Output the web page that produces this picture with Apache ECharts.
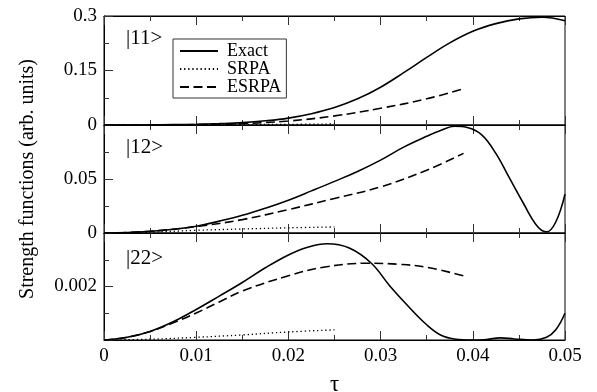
<!DOCTYPE html>
<html>
<head>
<meta charset="utf-8">
<script src="https://cdn.jsdelivr.net/npm/echarts@6/dist/echarts.min.js"></script>
<style>
  html, body { margin: 0; padding: 0; background: #fff; }
  #chart { width: 597px; height: 392px; }
</style>
</head>
<body>
<div id="chart"></div>
<script>
// Strength functions of the |11>, |12> and |22> states versus tau

// |11> panel
const tauExact11 = [0, 0.0025, 0.005, 0.0075, 0.01, 0.0125, 0.015, 0.0175, 0.02, 0.0225, 0.025, 0.0275, 0.03, 0.0325, 0.035, 0.0375, 0.04, 0.0425, 0.045, 0.0475, 0.05];
const exact11 = [0, 0.0001, 0.0003, 0.001, 0.002, 0.0038, 0.0065, 0.0115, 0.019, 0.031, 0.048, 0.072, 0.104, 0.144, 0.186, 0.226, 0.258, 0.279, 0.292, 0.2965, 0.287];
const tauSrpa = [0, 0.005, 0.01, 0.015, 0.02, 0.025];
const srpa11 = [0, 0.0002, 0.0006, 0.001, 0.0018, 0.0028];
const tauEsrpa = [0, 0.005, 0.01, 0.015, 0.02, 0.025, 0.03, 0.035, 0.039];
const esrpa11 = [0, 0.0002, 0.0012, 0.004, 0.011, 0.025, 0.046, 0.072, 0.100];

// |12> panel
const tauExact12 = [0, 0.0025, 0.005, 0.0075, 0.01, 0.0125, 0.015, 0.0175, 0.02, 0.0225, 0.025, 0.0275, 0.03, 0.0325, 0.035, 0.0365, 0.038, 0.0395, 0.041, 0.0425, 0.044, 0.0455, 0.047, 0.048, 0.049, 0.05];
const exact12 = [0, 0.0005, 0.0016, 0.0035, 0.0062, 0.011, 0.0164, 0.023, 0.0304, 0.039, 0.0478, 0.057, 0.0675, 0.0795, 0.0895, 0.0948, 0.0988, 0.0975, 0.0907, 0.0737, 0.0505, 0.0273, 0.0062, 0.001, 0.0102, 0.036];
const srpa12 = [0, 0.0008, 0.0025, 0.0037, 0.0048, 0.0056];
const esrpa12 = [0, 0.0016, 0.006, 0.0124, 0.0217, 0.032, 0.0427, 0.0582, 0.0737];

// |22> panel
const tauExact22 = [0, 0.0025, 0.005, 0.0075, 0.01, 0.0125, 0.015, 0.0175, 0.02, 0.022, 0.0242, 0.0266, 0.029, 0.031, 0.033, 0.035, 0.0365, 0.038, 0.04, 0.0415, 0.043, 0.0445, 0.0465, 0.048, 0.049, 0.05];
const exact22 = [0, 0.0001, 0.00032, 0.00068, 0.00114, 0.00164, 0.00215, 0.0027, 0.00318, 0.00346, 0.0036, 0.00344, 0.00287, 0.00202, 0.00126, 0.00057, 0.00019, 0.00004, 0, 0.00002, 0.00008, 0.00004, 0, 0.0001, 0.00038, 0.001];
const srpa22 = [0, 0.00003, 0.0001, 0.00019, 0.0003, 0.00038];
const tauEsrpa22 = [0, 0.0025, 0.005, 0.0075, 0.01, 0.0125, 0.015, 0.02, 0.0238, 0.0286, 0.032, 0.035, 0.039];
const esrpa22 = [0, 0.0001, 0.00032, 0.00064, 0.00101, 0.00142, 0.00183, 0.0024, 0.00272, 0.00287, 0.00283, 0.00272, 0.0024];

// Axis ranges and tick steps per panel
const xRange = [0, 0.05];
const xStep = 0.01;
const yMax = [0.3, 0.1, 0.004];
const yStep = [0.15, 0.05, 0.002];
const panelLabels = ['|11>', '|12>', '|22>'];
const seriesNames = ['Exact', 'SRPA', 'ESRPA'];

const zip = (xs, ys) => xs.map((x, i) => [x, ys[i]]);

const FONT = "'Liberation Serif', serif";
const INK = '#000';
const TICK = '#333';

const panelTop = [16, 125, 233];
const panelHeight = [109, 108, 107];

const grids = panelTop.map((t, i) => ({
  left: 104, right: 32, top: t, height: panelHeight[i],
  containLabel: false, outerBoundsMode: 'none',
  show: true, borderColor: INK, borderWidth: 1, backgroundColor: 'transparent'
}));

const xAxes = [];
const yAxes = [];
for (let i = 0; i < 3; i++) {
  const isLast = i === 2;
  const common = {
    type: 'value', gridIndex: i, min: xRange[0], max: xRange[1], interval: xStep,
    axisLine: { show: true, lineStyle: { color: INK, width: 1 } },
    axisTick: { show: true, inside: true, length: 9, lineStyle: { color: TICK } },
    minorTick: { show: true, splitNumber: 2, length: 5, lineStyle: { color: TICK } },
    splitLine: { show: false }, minorSplitLine: { show: false }
  };
  xAxes.push(Object.assign({}, common, {
    position: 'bottom',
    axisLabel: { show: isLast, color: INK, fontFamily: FONT, fontSize: 19, margin: 7 },
    name: isLast ? 'τ' : '',
    nameLocation: 'middle', nameGap: 33,
    nameTextStyle: { color: INK, fontFamily: FONT, fontSize: 23 }
  }));
  xAxes.push(Object.assign({}, common, {
    position: 'top',
    axisLabel: { show: false }
  }));
  yAxes.push({
    type: 'value', gridIndex: i, min: 0, max: yMax[i], interval: yStep[i],
    axisLine: { show: true, lineStyle: { color: INK, width: 1 } },
    axisTick: { show: true, inside: true, length: 9, lineStyle: { color: TICK } },
    minorTick: { show: true, splitNumber: 2, length: 5, lineStyle: { color: TICK } },
    splitLine: { show: false },
    axisLabel: {
      color: INK, fontFamily: FONT, fontSize: 19, margin: 7,
      showMaxLabel: i === 0, showMinLabel: i !== 2
    },
    name: i === 1 ? 'Strength functions (arb. units)' : '',
    nameLocation: 'middle', nameGap: 66,
    nameTextStyle: { color: INK, fontFamily: FONT, fontSize: 20 }
  });
}

const curves = [
  [zip(tauExact11, exact11), zip(tauSrpa, srpa11), zip(tauEsrpa, esrpa11)],
  [zip(tauExact12, exact12), zip(tauSrpa, srpa12), zip(tauEsrpa, esrpa12)],
  [zip(tauExact22, exact22), zip(tauSrpa, srpa22), zip(tauEsrpa22, esrpa22)]
];
const styles = [
  { color: INK, width: 1.6, type: 'solid' },
  { color: INK, width: 1.3, type: [1.3, 2.8] },
  { color: INK, width: 1.6, type: [9, 4.5] }
];

const series = [];
curves.forEach((panel, i) => {
  panel.forEach((data, k) => {
    series.push({
      name: seriesNames[k], type: 'line', xAxisIndex: 2 * i, yAxisIndex: i,
      data: data, smooth: 0.4, showSymbol: false, symbol: 'none',
      lineStyle: styles[k], itemStyle: { color: INK },
      clip: true, silent: true
    });
  });
});

const titles = panelLabels.map((t, i) => ({
  text: t, left: 126, top: [28, 137, 248][i], padding: 0,
  textStyle: { color: INK, fontFamily: FONT, fontSize: 21, fontWeight: 'normal' }
}));

const chart = echarts.init(document.getElementById('chart'), null, { renderer: 'canvas' });
chart.setOption({
  animation: false,
  backgroundColor: '#fff',
  title: titles,
  legend: {
    data: seriesNames, orient: 'vertical', left: 173, top: 39,
    padding: [3, 5, 2, 6], itemGap: 0, itemWidth: 38, itemHeight: 14,
    borderColor: '#333', borderWidth: 1, selectedMode: false,
    itemStyle: { color: 'transparent', borderWidth: 0, borderColor: 'transparent' },
    textStyle: { color: INK, fontFamily: FONT, fontSize: 18, padding: [0, 0, 0, 4] }
  },
  grid: grids,
  xAxis: xAxes,
  yAxis: yAxes,
  series: series
});
</script>
</body>
</html>
